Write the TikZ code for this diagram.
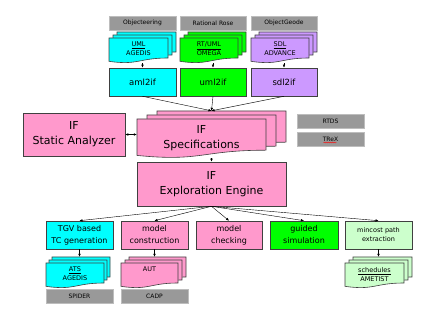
\documentclass[tikz,border=0pt]{standalone}
\usepackage{fontspec}
\setmainfont{DejaVu Sans}
\usetikzlibrary{arrows.meta,decorations.pathmorphing}

\definecolor{ifpink}{HTML}{FF99CC}
\definecolor{umlcyan}{HTML}{00FFFF}
\definecolor{rtgreen}{HTML}{00FF00}
\definecolor{sdlpurple}{HTML}{CC99FF}
\definecolor{paleGreen}{HTML}{CCFFCC}
\definecolor{toolgray}{HTML}{999999}
\definecolor{toolline}{HTML}{BDBDBD}
\definecolor{boxline}{HTML}{404040}

\tikzset{
    box/.style={draw=boxline, line width=0.6pt, inner sep=0pt, align=center},
    ifbox/.style={box, fill=ifpink, font=\fontsize{11}{15}\selectfont},
    transbox/.style={box, minimum height=28pt, font=\fontsize{8.5}{10}\selectfont},
    toolbox/.style={fill=toolgray, draw=toolline, line width=0.6pt, inner sep=0pt,
        minimum height=14pt, font=\fontsize{6}{7}\selectfont},
    taskbox/.style={box, minimum height=28pt, minimum width=67pt, font=\fontsize{8}{12}\selectfont},
    layer/.style={draw=boxline, line width=0.6pt},
    doctext/.style={align=center, inner sep=0pt, font=\fontsize{6.5}{9}\selectfont},
    link/.style={-{Latex[length=3pt,width=2.5pt]}, line width=0.4pt},
    dlink/.style={{Latex[length=3pt,width=2.5pt]}-{Latex[length=3pt,width=2.5pt]}, line width=0.4pt},
}

\begin{document}
\begin{tikzpicture}[x=1pt, y=-1pt]
    \useasboundingbox (0,0) rectangle (440,320);

    % Tools boven
    \node[toolbox, minimum width=67pt] (objecteering) at (142.5,23) {Objecteering};
    \node[toolbox, minimum width=66pt] (rationalRose) at (213,23) {Rational Rose};
    \node[toolbox, minimum width=66pt] (objectGeode) at (284,23) {ObjectGeode};

    % Documentstapels: naam/links/boven/rechts/onder/verschuiving x/verschuiving y/kleur
    \foreach \nm/\xa/\ya/\xb/\yb/\dx/\dy/\col in {
        umlDoc/109/32/176/63/4/3/umlcyan, rtDoc/180/32/246/63/4/3/rtgreen,
        sdlDoc/251/32/317/63/4/3/sdlpurple, specDoc/137/111/286/158/10/4/ifpink,
        atsDoc/46/257/110/288/3/3/umlcyan, autDoc/121/257/186/288/4/3/ifpink,
        ametDoc/345/257/412/288/4/3/paleGreen} {
        \pgfmathsetmacro\w{\xb-\xa-2*\dx}
        \pgfmathsetmacro\h{\yb-\ya-2*\dy}
        % Achterste laag eerst, voorste laag laatst
        \foreach \k in {2,1,0} {
            \pgfmathsetmacro\ox{\xa+\k*\dx}
            \pgfmathsetmacro\oy{\ya+(2-\k)*\dy}
            \filldraw[layer, fill=\col] (\ox,\oy) -- (\ox+\w,\oy) -- (\ox+\w,\oy+0.8*\h)
                .. controls (\ox+0.5*\w,\oy+0.8*\h) and (\ox+0.5*\w,\oy+1.1*\h) .. (\ox,\oy+0.934*\h) -- cycle;
        }
        \node[inner sep=0pt, minimum width=\xb-\xa, minimum height=\yb-\ya] (\nm) at ({(\xa+\xb)/2},{(\ya+\yb)/2}) {};
    }

    % Teksten in de documenten
    \node[doctext] (umlText) at (138.5,49) {\underline{UML}\\AGEDIS};
    \node[doctext] (rtText) at (209,49) {\underline{RT/UML}\\OMEGA};
    \node[doctext] (sdlText) at (280,49) {\underline{SDL}\\ADVANCE};
    \node[doctext] (atsText) at (75,274) {\underline{ATS}\\AGEDIS};
    \node[doctext] (autText) at (149.5,269) {AUT};
    \node[doctext] (ametText) at (374.5,275) {\underline{schedules}\\AMETIST};
    \node[align=center, inner sep=0pt, font=\fontsize{11}{15}\selectfont] (specText) at (201.5,138) {IF\\Specifications};

    % Vertalers
    \node[transbox, fill=umlcyan, minimum width=67pt] (aml2if) at (142.5,82) {aml2if};
    \node[transbox, fill=rtgreen, minimum width=66pt] (uml2if) at (213,82) {uml2if};
    \node[transbox, fill=sdlpurple, minimum width=66pt] (sdl2if) at (284,82) {sdl2if};

    % IF kern
    \node[ifbox, minimum width=102pt, minimum height=43pt] (staticAnalyzer) at (74,134.5) {IF\\Static Analyzer};
    \node[ifbox, minimum width=149pt, minimum height=44pt] (engine) at (211.5,184) {IF\\Exploration Engine};
    \node[toolbox, minimum width=67pt] (rtds) at (330.5,121) {RTDS};
    \node[toolbox, minimum width=67pt] (trex) at (330.5,139) {TReX};
    \draw[red, line width=0.4pt, decorate, decoration={snake, amplitude=0.5pt, segment length=2pt}]
        ([xshift=-7pt, yshift=-3.5pt]trex.center) -- ([xshift=6pt, yshift=-3.5pt]trex.center);

    % Toepassingen onder
    \node[taskbox, fill=umlcyan] (tgv) at (79.5,235) {TGV based\\TC generation};
    \node[taskbox, fill=ifpink] (modelConstruction) at (154.5,235) {model\\construction};
    \node[taskbox, fill=ifpink, minimum width=66pt] (modelChecking) at (229,235) {model\\checking};
    \node[taskbox, fill=rtgreen, minimum width=68pt] (guidedSim) at (304,235) {guided\\simulation};
    \node[taskbox, fill=paleGreen, font=\fontsize{6.5}{9}\selectfont] (mincost) at (378.5,235) {mincost path\\extraction};
    \node[toolbox, minimum width=67pt] (spider) at (79.5,296) {SPIDER};
    \node[toolbox, minimum width=67pt] (cadp) at (154.5,296) {CADP};

    % Pijlen
    \draw[link] (umlDoc.south) -- (aml2if.north);
    \draw[link] (rtDoc.south) -- (uml2if.north);
    \draw[link] (sdlDoc.south) -- (sdl2if.north);
    \foreach \src in {aml2if, uml2if, sdl2if}
        \draw[link] (\src.south) -- (specDoc.north);
    \draw[dlink] (staticAnalyzer.east) -- (specDoc.west);
    \draw[link] (specDoc.south) -- (engine.north);
    \foreach \dst in {tgv, modelConstruction, modelChecking, guidedSim, mincost}
        \draw[link] (engine.south) -- (\dst.north);
    \draw[link] (tgv.south) -- (tgv.south |- atsDoc.north);
    \draw[link] (modelConstruction.south) -- (modelConstruction.south |- autDoc.north);
    \draw[link] (mincost.south) -- (mincost.south |- ametDoc.north);
\end{tikzpicture}
\end{document}
